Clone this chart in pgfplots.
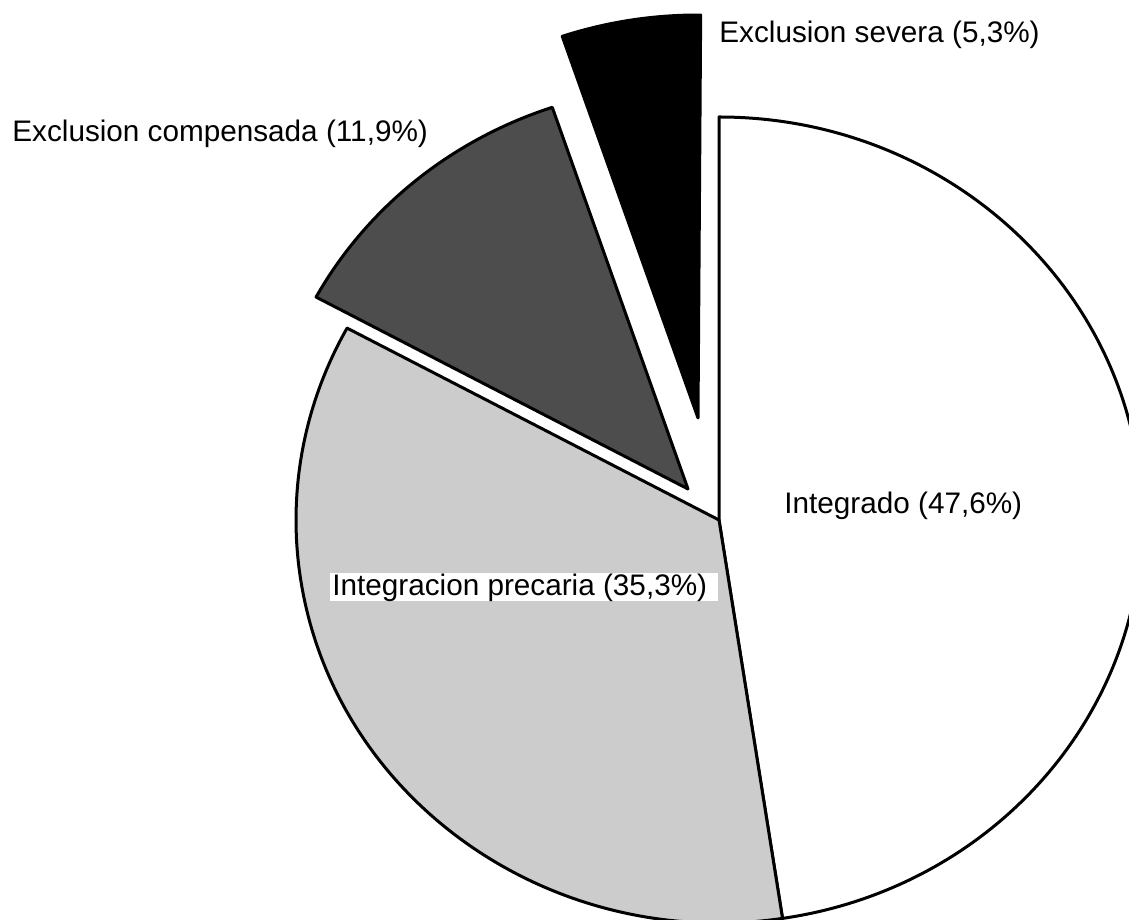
\documentclass[border=0pt]{standalone}
\usepackage{pgfplots}
\pgfplotsset{compat=1.18}
\usepackage{pgfplotstable}
\usepackage{fontspec}
\setmainfont{Liberation Sans}
\definecolor{lightgr}{HTML}{CCCCCC}
\definecolor{darkgr}{HTML}{4D4D4D}

% percentage of each slice, and the offset (in pixels) of its explosion
\pgfplotstableread{
pct   dx   dy
47.6   0    0
35.3   0    0
11.9 -31   31
5.3  -21  102
}\piedata

\begin{document}
\begin{tikzpicture}
\pgfplotstablegetelem{0}{pct}\of\piedata \let\pA\pgfplotsretval
\pgfplotstablegetelem{1}{pct}\of\piedata \let\pB\pgfplotsretval
\pgfplotstablegetelem{2}{pct}\of\piedata \let\pC\pgfplotsretval
\pgfplotstablegetelem{3}{pct}\of\piedata \let\pD\pgfplotsretval
\pgfplotstablegetelem{2}{dx}\of\piedata \let\dxC\pgfplotsretval
\pgfplotstablegetelem{2}{dy}\of\piedata \let\dyC\pgfplotsretval
\pgfplotstablegetelem{3}{dx}\of\piedata \let\dxD\pgfplotsretval
\pgfplotstablegetelem{3}{dy}\of\piedata \let\dyD\pgfplotsretval
\pgfmathsetmacro\aA{90}
\pgfmathsetmacro\aB{\aA-3.6*\pA}
\pgfmathsetmacro\aC{\aB-3.6*\pB}
\pgfmathsetmacro\aD{\aC-3.6*\pC}
\pgfmathsetmacro\aE{\aD-3.6*\pD}
\pgfmathsetmacro\cxC{719+\dxC}
\pgfmathsetmacro\cyC{400+\dyC}
\pgfmathsetmacro\cxD{719+\dxD}
\pgfmathsetmacro\cyD{400+\dyD}
\begin{axis}[
  width=564.5pt, height=460pt, scale only axis,
  xmin=0, xmax=1129, ymin=0, ymax=920,
  hide axis, clip=true,
]
\filldraw[fill=white, draw=black, line width=1.5pt, line join=round]
  (axis cs:719,400) -- ++(\aA:211.5pt and 201.5pt) arc[start angle=\aA, end angle=\aB, x radius=211.5pt, y radius=201.5pt] -- cycle;
\filldraw[fill=lightgr, draw=black, line width=1.5pt, line join=round]
  (axis cs:719,400) -- ++(\aB:211.5pt and 201.5pt) arc[start angle=\aB, end angle=\aC, x radius=211.5pt, y radius=201.5pt] -- cycle;
\filldraw[fill=darkgr, draw=black, line width=1.5pt, line join=round]
  (axis cs:\cxC,\cyC) -- ++(\aC:211.5pt and 201.5pt) arc[start angle=\aC, end angle=\aD, x radius=211.5pt, y radius=201.5pt] -- cycle;
\filldraw[fill=black, draw=black, line width=1.5pt, line join=round]
  (axis cs:\cxD,\cyD) -- ++(\aD:211.5pt and 201.5pt) arc[start angle=\aD, end angle=\aE, x radius=211.5pt, y radius=201.5pt] -- cycle;
\fill[white] (axis cs:330,319) rectangle (axis cs:718,347);
\node[anchor=base west, inner sep=0pt, font=\fontsize{14.85}{17}\selectfont] at (axis cs:719,877) {Exclusion severa (5,3\%)};
\node[anchor=base west, inner sep=0pt, font=\fontsize{14.85}{17}\selectfont] at (axis cs:12,778) {Exclusion compensada (11,9\%)};
\node[anchor=base west, inner sep=0pt, font=\fontsize{14.85}{17}\selectfont] at (axis cs:332,324) {Integracion precaria (35,3\%)};
\node[anchor=base west, inner sep=0pt, font=\fontsize{14.85}{17}\selectfont] at (axis cs:784,406) {Integrado (47,6\%)};
\end{axis}
\pgfresetboundingbox
\path[use as bounding box] (current axis.south west) rectangle (current axis.north east);
\end{tikzpicture}
\end{document}
